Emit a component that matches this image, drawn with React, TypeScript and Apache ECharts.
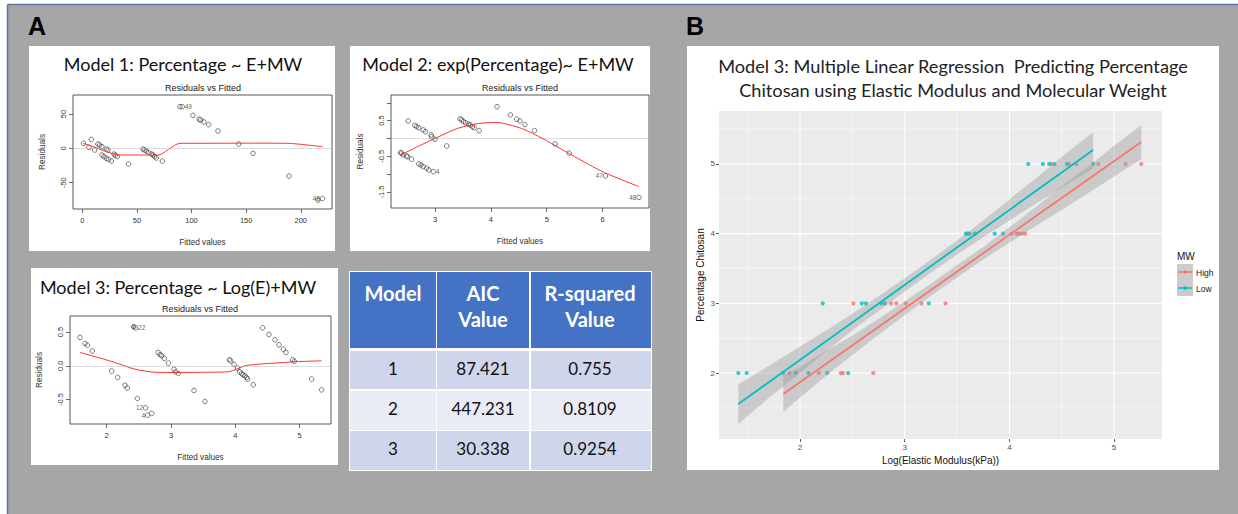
import React, { useEffect, useRef } from "react";
import * as echarts from "echarts";

// ---------- Model 1 residuals vs fitted ----------
const m1Fitted = [1.2, 6.1, 8.2, 11.3, 14.3, 15.9, 18, 18, 19.8, 22, 23.5, 22, 24, 26.6, 29, 30.2, 32, 42.4, 55.6, 57, 58.6, 60.7, 63.2, 64.7, 66.2, 67.8, 73.3, 89.4, 91.5, 101.3, 107, 108.4, 111.4, 115.7, 124.2, 143.2, 156.3, 189.3, 215.8, 220];
const m1Resid = [7.3, 1.5, 13, -2.4, 6.3, 4.9, 2.4, -9.7, -12, -1, -2.4, -14.6, -16, -18.5, -8.3, -10, -12, -22.8, -1, -2.4, -3.9, -6.3, -8.3, -9.7, -12, -14, -18.5, 60.7, 60.7, 48, 42.3, 41.3, 38.4, 34.5, 25.3, 6.3, -7.3, -40.3, -75.3, -72.9];
const m1SmoothX = [0.6, 10, 20, 33, 45, 60, 69, 89.4, 120, 150, 188, 220];
const m1SmoothY = [7.3, 2.5, -3.5, -9.5, -9.6, -9.7, -9.9, 7.3, 7.4, 7.6, 7.3, 2.4];
const m1IdX = [91.5, 220];
const m1IdY = [60.7, -72.9];
const m1IdText = ["49", "48"];
const m1IdSide = ["right", "left"];
const m1XTicks = [0, 50, 100, 150, 200];
const m1YTicks = [-50, 0, 50];

// ---------- Model 2 ----------
const m2Fitted = [2.386, 2.4, 2.43, 2.49, 2.51, 2.52, 2.58, 2.64, 2.67, 2.71, 2.71, 2.75, 2.79, 2.79, 2.83, 2.85, 2.89, 2.93, 2.94, 2.97, 3.0, 3.21, 3.45, 3.48, 3.51, 3.55, 3.6, 3.63, 3.67, 3.7, 3.79, 4.11, 4.35, 4.46, 4.52, 4.61, 4.78, 5.15, 5.4, 6.05, 6.65];
const m2Resid = [-0.396, -0.41, -0.46, -0.49, -0.51, 0.49, -0.58, 0.37, 0.33, 0.3, -0.71, -0.74, 0.24, -0.79, 0.19, -0.83, -0.88, 0.1, 0.05, -0.93, -0.02, -0.21, 0.55, 0.52, 0.47, 0.44, 0.4, 0.38, 0.33, 0.3, 0.22, 0.89, 0.66, 0.54, 0.49, 0.39, 0.22, -0.15, -0.41, -1.05, -1.65];
const m2SmoothX = [2.39, 2.7, 3.0, 3.4, 3.78, 4.1, 4.55, 4.8, 5.03, 5.5, 6.0, 6.65];
const m2SmoothY = [-0.46, -0.22, 0.0, 0.28, 0.42, 0.45, 0.28, 0.1, -0.09, -0.51, -0.93, -1.35];
const m2IdX = [2.97, 6.05, 6.65];
const m2IdY = [-0.93, -1.05, -1.65];
const m2IdText = ["4", "47", "48"];
const m2IdSide = ["right", "left", "left"];
const m2XTicks = [3, 4, 5, 6];
const m2YTicks = [-1.5, -1, -0.5, 0, 0.5, 1];
const m2YLabels = [-1.5, -0.5, 0.5];

// ---------- Model 3 ----------
const m3Fitted = [1.585, 1.663, 1.7, 1.777, 2.078, 2.171, 2.285, 2.32, 2.477, 2.42, 2.45, 2.606, 2.637, 2.7, 2.8, 2.83, 2.855, 2.896, 2.96, 3.047, 3.07, 3.114, 3.358, 3.528, 3.907, 3.927, 3.98, 4.036, 4.07, 4.098, 4.12, 4.15, 4.176, 4.19, 4.28, 4.425, 4.523, 4.617, 4.679, 4.746, 4.788, 4.891, 4.917, 5.186, 5.342];
const m3Resid = [0.419, 0.33, 0.305, 0.22, -0.079, -0.172, -0.286, -0.33, -0.483, 0.576, 0.56, -0.621, -0.729, -0.704, 0.197, 0.167, 0.148, 0.108, 0.039, -0.049, -0.089, -0.113, -0.365, -0.527, 0.089, 0.074, 0.02, -0.034, -0.089, -0.113, -0.133, -0.148, -0.172, -0.197, -0.281, 0.562, 0.463, 0.384, 0.31, 0.246, 0.197, 0.089, 0.069, -0.197, -0.355];
const m3SmoothX = [1.585, 2.08, 2.44, 2.75, 3.11, 3.5, 3.89, 4.15, 4.31, 4.6, 4.93, 5.342];
const m3SmoothY = [0.197, 0.064, -0.05, -0.095, -0.099, -0.095, -0.089, 0.0, 0.02, 0.04, 0.06, 0.074];
const m3IdX = [2.45, 2.42, 2.606, 2.637];
const m3IdY = [0.56, 0.576, -0.621, -0.729];
const m3IdText = ["22", "6", "12", "4"];
const m3IdSide = ["right", "inside", "left", "left"];
const m3XTicks = [2, 3, 4, 5];
const m3YTicks = [-0.5, 0, 0.5];

// ---------- Table ----------
const tableHeader = [["Model"], ["AIC", "Value"], ["R-squared", "Value"]];
const tableModels = ["1", "2", "3"];
const tableAIC = ["87.421", "447.231", "30.338"];
const tableR2 = ["0.755", "0.8109", "0.9254"];

// ---------- Panel B ----------
const highLogE = [4.4, 4.57, 4.64, 4.85, 5.11, 5.26, 4.02, 4.07, 4.09, 4.12, 4.15, 2.51, 2.87, 2.92, 3.01, 3.16, 3.39, 1.9, 2.18, 2.39, 2.41, 2.7];
const highPct = [5, 5, 5, 5, 5, 5, 4, 4, 4, 4, 4, 3, 3, 3, 3, 3, 3, 2, 2, 2, 2, 2];
const lowLogE = [4.18, 4.32, 4.38, 4.43, 4.55, 4.8, 3.585, 3.6, 3.62, 3.67, 3.86, 3.94, 2.217, 2.59, 2.63, 2.78, 2.81, 3.23, 1.41, 1.49, 1.84, 1.96, 2.08, 2.26, 2.46];
const lowPct = [5, 5, 5, 5, 5, 5, 4, 4, 4, 4, 4, 4, 3, 3, 3, 3, 3, 3, 2, 2, 2, 2, 2, 2, 2];
const highFitX = [1.84, 5.26];
const highFitY = [1.7, 5.315];
const lowFitX = [1.41, 4.8];
const lowFitY = [1.555, 5.2];
const highBandX = [1.84, 2.0, 2.25, 2.5, 2.75, 3.0, 3.25, 3.5, 3.75, 4.0, 4.25, 4.5, 4.75, 5.0, 5.26];
const highBandLo = [1.44, 1.65, 1.96, 2.26, 2.55, 2.83, 3.11, 3.37, 3.63, 3.87, 4.11, 4.34, 4.58, 4.82, 5.07];
const highBandHi = [1.96, 2.09, 2.32, 2.54, 2.78, 3.03, 3.28, 3.55, 3.81, 4.09, 4.38, 4.68, 4.96, 5.26, 5.56];
const lowBandX = [1.41, 1.7, 2.0, 2.25, 2.5, 2.75, 3.0, 3.25, 3.5, 3.75, 4.0, 4.25, 4.5, 4.8];
const lowBandLo = [1.27, 1.64, 2.0, 2.31, 2.61, 2.89, 3.17, 3.44, 3.7, 3.95, 4.19, 4.43, 4.66, 4.94];
const lowBandHi = [1.84, 2.1, 2.38, 2.61, 2.85, 3.1, 3.36, 3.63, 3.9, 4.19, 4.49, 4.79, 5.1, 5.46];
const bTicks = [2, 3, 4, 5];
const bMinorX = [1.5, 2.5, 3.5, 4.5];
const bMinorY = [1.5, 2.5, 3.5, 4.5, 5.5];
const legendLabels = ["High", "Low"];
const HIGH_COLOR = "#F8766D";
const LOW_COLOR = "#00BFC4";

const FONT_R = "'Liberation Sans', Arial, sans-serif";
const FONT_C = "Lato, 'Open Sans', sans-serif";

const zip = (a: number[], b: number[]) => a.map((v, i) => [v, b[i]]);

function rAxes(gi: number, xr: number[], yr: number[], xt: number[], yt: number[], yl: number[], fmt: (v: number) => string) {
  const x = {
    type: "value", gridIndex: gi, min: xr[0], max: xr[1],
    axisLine: { show: false, onZero: false },
    splitLine: { show: false },
    axisTick: { show: true, length: 4, customValues: xt, lineStyle: { color: "#444", width: 0.8 } },
    axisLabel: { customValues: xt, margin: 7, fontSize: 7.5, color: "#333", fontFamily: FONT_R },
    name: "Fitted values", nameLocation: "middle", nameGap: 29,
    nameTextStyle: { fontSize: 8.2, color: "#333", fontFamily: FONT_R },
  };
  const y = {
    type: "value", gridIndex: gi, min: yr[0], max: yr[1],
    axisLine: { show: false, onZero: false },
    splitLine: { show: false },
    axisTick: { show: true, length: 4, customValues: yt, lineStyle: { color: "#444", width: 0.8 } },
    axisLabel: { customValues: yl, margin: 6, rotate: 90, fontSize: 7.5, color: "#333", fontFamily: FONT_R, formatter: fmt },
    name: "Residuals", nameLocation: "middle", nameGap: 27,
    nameTextStyle: { fontSize: 8.2, color: "#333", fontFamily: FONT_R },
  };
  return { x, y };
}

function rSeries(gi: number, fx: number[], ry: number[], sx: number[], sy: number[], ix: number[], iy: number[], it: string[], is: string[]) {
  return [
    {
      type: "scatter", xAxisIndex: gi, yAxisIndex: gi, z: 2, silent: true,
      data: zip(fx, ry), symbol: "circle", symbolSize: 4.6,
      itemStyle: { color: "rgba(0,0,0,0)", borderColor: "#333", borderWidth: 0.8 },
      markLine: {
        silent: true, symbol: ["none", "none"], label: { show: false },
        lineStyle: { type: "dotted", color: "#aaa", width: 0.8 },
        data: [{ yAxis: 0 }],
      },
    },
    {
      type: "line", xAxisIndex: gi, yAxisIndex: gi, z: 3, silent: true,
      data: zip(sx, sy), symbol: "none", smooth: 0.25,
      lineStyle: { color: "#ff3030", width: 1 },
    },
    {
      type: "scatter", xAxisIndex: gi, yAxisIndex: gi, z: 4, silent: true,
      symbolSize: 1, itemStyle: { color: "rgba(0,0,0,0)" },
      data: ix.map((v, i) => ({
        value: [v, iy[i]],
        label: { show: true, formatter: it[i], position: is[i], distance: 2, fontSize: 6.5, color: "#333", fontFamily: FONT_R },
      })),
    },
  ];
}

function buildOption() {
  const a1 = rAxes(0, [-8.5, 228.6], [-88.3, 77.7], m1XTicks, m1YTicks, m1YTicks, (v) => String(v));
  const a2 = rAxes(1, [2.213, 6.83], [-1.947, 1.218], m2XTicks, m2YTicks, m2YLabels, (v) => String(v));
  const a3 = rAxes(2, [1.43, 5.488], [-0.86, 0.736], m3XTicks, m3YTicks, m3YTicks, (v) => v.toFixed(1));

  const bx = {
    type: "value", gridIndex: 3, min: 1.226, max: 5.458,
    axisLine: { show: false, onZero: false }, splitLine: { show: false },
    axisTick: { show: true, length: 3, customValues: bTicks, lineStyle: { color: "#333", width: 0.8 } },
    axisLabel: { customValues: bTicks, margin: 4, fontSize: 8, color: "#4d4d4d", fontFamily: FONT_R },
    name: "Log(Elastic Modulus(kPa))", nameLocation: "middle", nameGap: 15,
    nameTextStyle: { fontSize: 10, color: "#111", fontFamily: FONT_R },
  };
  const by = {
    type: "value", gridIndex: 3, min: 1.053, max: 5.76,
    axisLine: { show: false, onZero: false }, splitLine: { show: false },
    axisTick: { show: true, length: 3, customValues: bTicks, lineStyle: { color: "#333", width: 0.8 } },
    axisLabel: { customValues: bTicks, margin: 4, fontSize: 8, color: "#4d4d4d", fontFamily: FONT_R },
    name: "Percentage Chitosan", nameLocation: "middle", nameGap: 14,
    nameTextStyle: { fontSize: 10, color: "#111", fontFamily: FONT_R },
  };

  const gridLines = {
    type: "custom", xAxisIndex: 3, yAxisIndex: 3, z: 1, silent: true,
    data: [[bTicks[0], bTicks[0]]],
    renderItem: (params: any, api: any) => {
      const cs = params.coordSys;
      const ch: any[] = [];
      const vline = (v: number, w: number) => {
        const p = api.coord([v, bTicks[0]]);
        ch.push({ type: "line", shape: { x1: p[0], y1: cs.y, x2: p[0], y2: cs.y + cs.height }, style: { stroke: "#ffffff", lineWidth: w } });
      };
      const hline = (v: number, w: number) => {
        const p = api.coord([bTicks[0], v]);
        ch.push({ type: "line", shape: { x1: cs.x, y1: p[1], x2: cs.x + cs.width, y2: p[1] }, style: { stroke: "#ffffff", lineWidth: w } });
      };
      bMinorX.forEach((v) => vline(v, 0.5));
      bMinorY.forEach((v) => hline(v, 0.5));
      bTicks.forEach((v) => vline(v, 1.1));
      bTicks.forEach((v) => hline(v, 1.1));
      return { type: "group", children: ch };
    },
  };

  const ribbon = (xs: number[], lo: number[], hi: number[]) => ({
    type: "custom", xAxisIndex: 3, yAxisIndex: 3, z: 4, silent: true,
    data: [[xs[0], lo[0]]],
    renderItem: (_p: any, api: any) => {
      const pts: number[][] = [];
      xs.forEach((x, i) => pts.push(api.coord([x, hi[i]])));
      for (let i = xs.length - 1; i >= 0; i--) pts.push(api.coord([xs[i], lo[i]]));
      return { type: "polygon", shape: { points: pts }, style: { fill: "rgba(153,153,153,0.4)" } };
    },
  });

  const bSeries = [
    gridLines,
    { type: "scatter", name: "High", xAxisIndex: 3, yAxisIndex: 3, z: 3, silent: true, data: zip(highLogE, highPct), symbolSize: 4.2, itemStyle: { color: HIGH_COLOR } },
    { type: "scatter", name: "Low", xAxisIndex: 3, yAxisIndex: 3, z: 3, silent: true, data: zip(lowLogE, lowPct), symbolSize: 4.2, itemStyle: { color: LOW_COLOR } },
    ribbon(highBandX, highBandLo, highBandHi),
    ribbon(lowBandX, lowBandLo, lowBandHi),
    { type: "line", xAxisIndex: 3, yAxisIndex: 3, z: 5, silent: true, data: zip(highFitX, highFitY), symbol: "none", lineStyle: { color: HIGH_COLOR, width: 1.8 } },
    { type: "line", xAxisIndex: 3, yAxisIndex: 3, z: 5, silent: true, data: zip(lowFitX, lowFitY), symbol: "none", lineStyle: { color: LOW_COLOR, width: 1.8 } },
  ];

  const txt = (text: string, x: number, y: number, font: string, fill: string, align = "center") => ({
    type: "text", z: 10, silent: true,
    style: { text, x, y, font, fill, textAlign: align, textVerticalAlign: "middle" },
  });

  const g: any[] = [
    { type: "rect", z: -20, silent: true, shape: { x: 0, y: 0, width: 1238, height: 514 }, style: { fill: "#ffffff" } },
    { type: "rect", z: -19, silent: true, shape: { x: 8, y: 5, width: 1230, height: 509 }, style: { fill: "#a6a6a6" } },
    { type: "line", z: -18, silent: true, shape: { x1: 7.5, y1: 4.5, x2: 1238, y2: 4.5 }, style: { stroke: "#5876ad", lineWidth: 1.5 } },
    { type: "line", z: -18, silent: true, shape: { x1: 7.5, y1: 4.5, x2: 7.5, y2: 514 }, style: { stroke: "#5876ad", lineWidth: 1.5 } },
    { type: "rect", z: -17, silent: true, shape: { x: 29, y: 46, width: 306, height: 205 }, style: { fill: "#ffffff" } },
    { type: "rect", z: -17, silent: true, shape: { x: 350, y: 46, width: 300, height: 205 }, style: { fill: "#ffffff" } },
    { type: "rect", z: -17, silent: true, shape: { x: 31, y: 268, width: 307, height: 197 }, style: { fill: "#ffffff" } },
    { type: "rect", z: -17, silent: true, shape: { x: 687, y: 46, width: 532, height: 424 }, style: { fill: "#ffffff" } },
    txt("A", 37, 26, "bold 25px 'Liberation Sans', Arial", "#000"),
    txt("B", 695, 26, "bold 25px 'Liberation Sans', Arial", "#000"),
    txt("Model 1: Percentage ~ E+MW", 183, 64, `18px ${FONT_C}`, "#111"),
    txt("Model 2: exp(Percentage)~ E+MW", 498, 64, `18px ${FONT_C}`, "#111"),
    txt("Model 3: Percentage ~ Log(E)+MW", 178, 287, `18px ${FONT_C}`, "#111"),
    txt("Residuals vs Fitted", 203, 88, `9px ${FONT_R}`, "#222"),
    txt("Residuals vs Fitted", 520, 88, `9px ${FONT_R}`, "#222"),
    txt("Residuals vs Fitted", 200, 308.5, `9px ${FONT_R}`, "#222"),
    txt("Model 3: Multiple Linear Regression  Predicting Percentage", 953, 66, `18.2px ${FONT_C}`, "#222"),
    txt("Chitosan using Elastic Modulus and Molecular Weight", 953, 90, `18.2px ${FONT_C}`, "#222"),
  ];

  // table
  const colX = [350, 437, 531];
  const colW = [86, 92, 120];
  const colC = [393, 483, 590];
  const rowY = [351, 391, 431];
  const rowH = [38, 39, 39];
  const rowFill = ["#cfd5ea", "#e9ebf5", "#cfd5ea"];
  g.push({ type: "rect", z: -16, silent: true, shape: { x: 349, y: 271, width: 303, height: 200 }, style: { fill: "#ffffff" } });
  colX.forEach((x, c) => {
    g.push({ type: "rect", z: -15, silent: true, shape: { x, y: 272, width: colW[c], height: 76 }, style: { fill: "#4472c4" } });
    rowY.forEach((y, r) => {
      g.push({ type: "rect", z: -15, silent: true, shape: { x, y, width: colW[c], height: rowH[r] }, style: { fill: rowFill[r] } });
    });
    const lines = tableHeader[c];
    if (lines.length === 1) g.push(txt(lines[0], colC[c], 293, `bold 20px ${FONT_C}`, "#ffffff"));
    else {
      g.push(txt(lines[0], colC[c], 293, `bold 20px ${FONT_C}`, "#ffffff"));
      g.push(txt(lines[1], colC[c], 319, `bold 20px ${FONT_C}`, "#ffffff"));
    }
  });
  const cols = [tableModels, tableAIC, tableR2];
  cols.forEach((col, c) => col.forEach((t, r) => g.push(txt(t, colC[c], rowY[r] + rowH[r] / 2 - 2, `17px ${FONT_C}`, "#111"))));

  // legend of panel B
  g.push(txt("MW", 1177, 256, `10px ${FONT_R}`, "#111", "left"));
  [HIGH_COLOR, LOW_COLOR].forEach((col, i) => {
    const y0 = 264 + i * 16;
    g.push({ type: "rect", z: 0, silent: true, shape: { x: 1177, y: y0, width: 16, height: 16 }, style: { fill: "#cbcbcb" } });
    g.push({ type: "line", z: 1, silent: true, shape: { x1: 1178, y1: y0 + 8, x2: 1192, y2: y0 + 8 }, style: { stroke: col, lineWidth: 1.6 } });
    g.push({ type: "circle", z: 1, silent: true, shape: { cx: 1185, cy: y0 + 8, r: 1.8 }, style: { fill: col } });
    g.push(txt(legendLabels[i], 1196, y0 + 8.5, `8.5px ${FONT_R}`, "#222", "left"));
  });

  return {
    animation: false,
    backgroundColor: "transparent",
    grid: [
      { left: 73, top: 95, width: 259, height: 114, show: true, borderColor: "#444", borderWidth: 0.9, backgroundColor: "transparent" },
      { left: 391, top: 95, width: 258, height: 113, show: true, borderColor: "#444", borderWidth: 0.9, backgroundColor: "transparent" },
      { left: 70, top: 316, width: 261, height: 108, show: true, borderColor: "#444", borderWidth: 0.9, backgroundColor: "transparent" },
      { left: 719, top: 111, width: 443, height: 328, show: true, borderWidth: 0, backgroundColor: "#ebebeb" },
    ],
    xAxis: [a1.x, a2.x, a3.x, bx],
    yAxis: [a1.y, a2.y, a3.y, by],
    series: [
      ...rSeries(0, m1Fitted, m1Resid, m1SmoothX, m1SmoothY, m1IdX, m1IdY, m1IdText, m1IdSide),
      ...rSeries(1, m2Fitted, m2Resid, m2SmoothX, m2SmoothY, m2IdX, m2IdY, m2IdText, m2IdSide),
      ...rSeries(2, m3Fitted, m3Resid, m3SmoothX, m3SmoothY, m3IdX, m3IdY, m3IdText, m3IdSide),
      ...bSeries,
    ],
    graphic: g,
  };
}

export default function App() {
  const ref = useRef<HTMLDivElement>(null);
  useEffect(() => {
    document.body.style.margin = "0";
    if (!ref.current) return;
    const chart = echarts.init(ref.current, undefined, { renderer: "svg" });
    chart.setOption(buildOption() as any);
    return () => chart.dispose();
  }, []);
  return <div ref={ref} style={{ width: 1238, height: 514 }} />;
}
